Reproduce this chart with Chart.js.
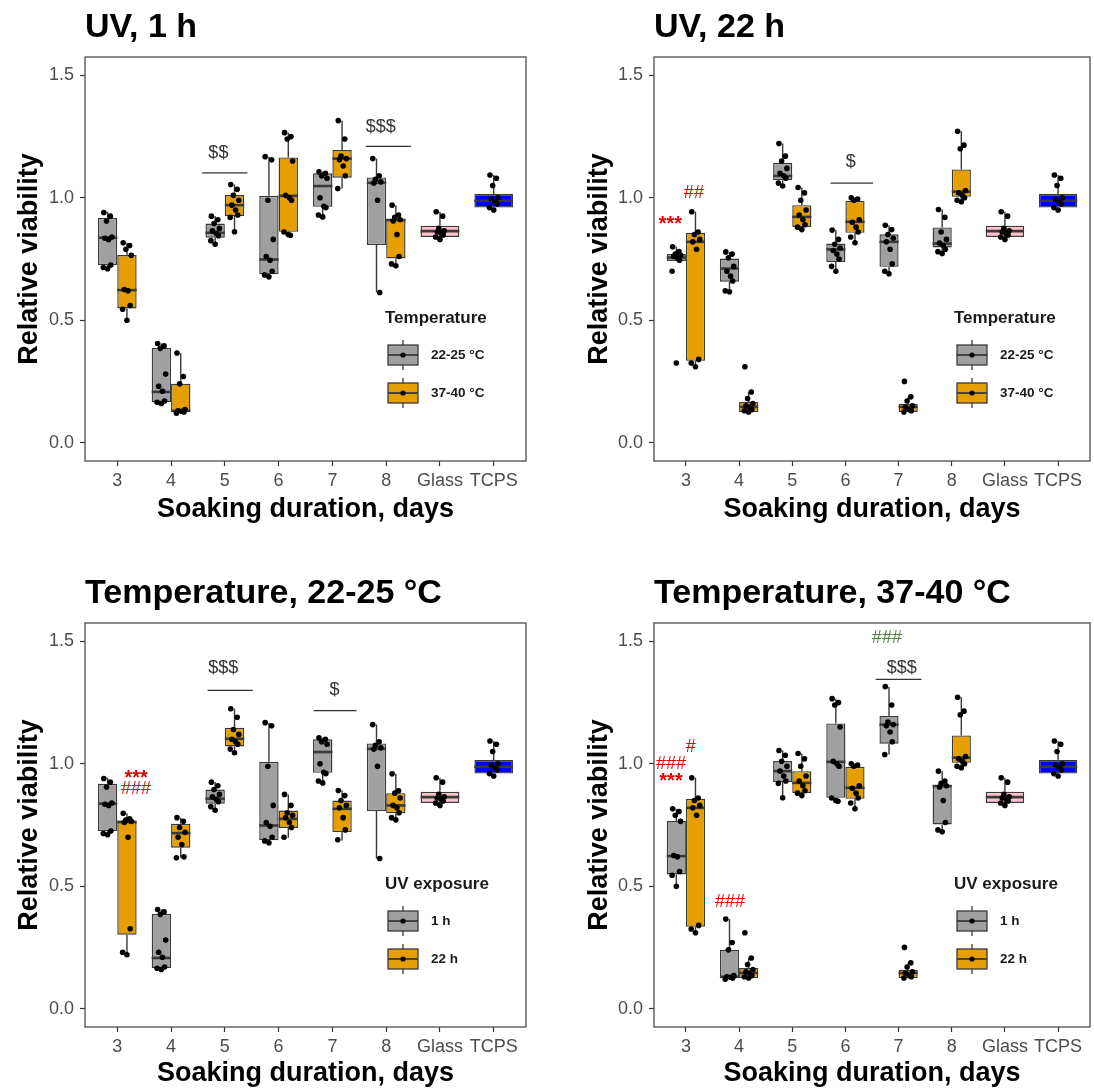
<!DOCTYPE html>
<html>
<head>
<meta charset="utf-8">
<script src="https://cdn.jsdelivr.net/npm/chart.js@4.4.0/dist/chart.umd.min.js"></script>
<style>
  body { margin: 0; background: #fff; }
  #page { position: relative; width: 1094px; height: 1090px; overflow: hidden; }
  canvas { position: absolute; }
</style>
</head>
<body>
<div id="page">
  <canvas id="p1" width="547" height="545" style="left:0;top:0"></canvas>
  <canvas id="p2" width="547" height="545" style="left:547px;top:0"></canvas>
  <canvas id="p3" width="547" height="545" style="left:0;top:545px"></canvas>
  <canvas id="p4" width="547" height="545" style="left:547px;top:545px"></canvas>
</div>
<script>
// Boxplots of relative viability, 4 panels

const CATEGORIES = ['3', '4', '5', '6', '7', '8', 'Glass', 'TCPS'];
const Y_TICKS = [0, 0.5, 1.0, 1.5];

// box stats per soaking day (3..8): [lower whisker, Q1, median, Q3, upper whisker]
const uv1h_t22_box = [
    [0.711, 0.725, 0.837, 0.918, 0.943],
    [0.160, 0.166, 0.207, 0.387, 0.405],
    [0.810, 0.837, 0.857, 0.895, 0.926],
    [0.677, 0.688, 0.748, 1.008, 1.168],
    [0.922, 0.963, 1.048, 1.100, 1.106],
    [0.613, 0.807, 1.061, 1.083, 1.160]
];
const uv1h_t22_pts = [
    [0.94, 0.925, 0.905, 0.84, 0.835, 0.83, 0.725, 0.715, 0.71],
    [0.405, 0.395, 0.385, 0.28, 0.23, 0.21, 0.17, 0.165, 0.16],
    [0.925, 0.91, 0.895, 0.875, 0.865, 0.855, 0.845, 0.825, 0.81],
    [1.168, 1.155, 0.99, 0.83, 0.76, 0.745, 0.70, 0.685, 0.677],
    [1.106, 1.10, 1.09, 1.08, 1.00, 0.965, 0.96, 0.93, 0.922],
    [1.16, 1.09, 1.075, 1.065, 1.06, 0.99, 0.613]
];

const uv1h_t37_box = [
    [0.500, 0.548, 0.623, 0.766, 0.816],
    [0.120, 0.128, 0.130, 0.241, 0.366],
    [0.861, 0.926, 0.970, 1.011, 1.054],
    [0.847, 0.861, 1.008, 1.165, 1.266],
    [1.038, 1.082, 1.160, 1.195, 1.315],
    [0.722, 0.752, 0.909, 0.913, 0.970]
];
const uv1h_t37_pts = [
    [0.816, 0.805, 0.79, 0.765, 0.625, 0.62, 0.56, 0.545, 0.50],
    [0.366, 0.27, 0.24, 0.135, 0.13, 0.128, 0.125, 0.12],
    [1.054, 1.035, 1.01, 0.99, 0.97, 0.95, 0.93, 0.92, 0.861],
    [1.266, 1.25, 1.24, 1.15, 1.01, 1.0, 0.99, 0.86, 0.85, 0.847],
    [1.315, 1.24, 1.17, 1.16, 1.155, 1.13, 1.09, 1.038],
    [0.97, 0.93, 0.92, 0.91, 0.905, 0.85, 0.76, 0.73, 0.722]
];

const uv22h_t22_box = [
    [0.742, 0.742, 0.756, 0.770, 0.800],
    [0.616, 0.657, 0.711, 0.752, 0.779],
    [1.048, 1.072, 1.089, 1.143, 1.222],
    [0.698, 0.738, 0.789, 0.813, 0.868],
    [0.690, 0.718, 0.820, 0.851, 0.888],
    [0.772, 0.797, 0.813, 0.879, 0.952]
];
const uv22h_t22_pts = [
    [0.80, 0.78, 0.77, 0.765, 0.76, 0.755, 0.745, 0.70, 0.325],
    [0.779, 0.77, 0.755, 0.72, 0.70, 0.68, 0.66, 0.62, 0.616],
    [1.222, 1.17, 1.15, 1.12, 1.10, 1.09, 1.08, 1.06, 1.048],
    [0.868, 0.83, 0.81, 0.795, 0.785, 0.77, 0.75, 0.72, 0.70],
    [0.888, 0.87, 0.85, 0.835, 0.82, 0.79, 0.73, 0.70, 0.69],
    [0.952, 0.92, 0.86, 0.83, 0.815, 0.805, 0.79, 0.78, 0.772]
];

// same condition as drawn in the "Temperature, 22-25 °C" panel (day 3 differs)
const uv22h_t22_box_p3 = [
    [0.223, 0.302, 0.762, 0.768, 0.798],
    [0.616, 0.657, 0.717, 0.755, 0.780],
    [1.045, 1.071, 1.102, 1.147, 1.225],
    [0.698, 0.738, 0.775, 0.809, 0.875],
    [0.687, 0.721, 0.816, 0.850, 0.891],
    [0.771, 0.798, 0.830, 0.880, 0.959]
];
const uv22h_t22_pts_p3 = [
    [0.798, 0.775, 0.77, 0.765, 0.76, 0.70, 0.326, 0.23, 0.22],
    [0.78, 0.765, 0.74, 0.72, 0.70, 0.67, 0.62, 0.616],
    [1.225, 1.19, 1.14, 1.12, 1.10, 1.09, 1.08, 1.06, 1.045],
    [0.875, 0.83, 0.80, 0.79, 0.78, 0.76, 0.74, 0.70],
    [0.891, 0.87, 0.85, 0.83, 0.82, 0.78, 0.73, 0.69],
    [0.959, 0.89, 0.88, 0.86, 0.83, 0.82, 0.80, 0.78, 0.771]
];

const uv22h_t37_box = [
    [0.310, 0.334, 0.820, 0.857, 0.943],
    [0.125, 0.125, 0.146, 0.166, 0.207],
    [0.870, 0.881, 0.922, 0.970, 1.042],
    [0.816, 0.857, 0.902, 0.988, 1.000],
    [0.125, 0.125, 0.146, 0.159, 0.187],
    [0.984, 1.004, 1.025, 1.116, 1.272]
];
const uv22h_t37_pts = [
    [0.943, 0.86, 0.85, 0.83, 0.82, 0.79, 0.34, 0.325, 0.31],
    [0.31, 0.207, 0.18, 0.16, 0.15, 0.145, 0.135, 0.13, 0.125],
    [1.042, 1.02, 0.99, 0.95, 0.93, 0.91, 0.89, 0.88, 0.87],
    [1.0, 0.995, 0.99, 0.91, 0.90, 0.88, 0.86, 0.84, 0.816],
    [0.25, 0.187, 0.17, 0.15, 0.145, 0.135, 0.13, 0.125],
    [1.272, 1.215, 1.20, 1.03, 1.02, 1.01, 1.0, 0.99, 0.984]
];

// controls, same in every panel
const control_box = [
    [0.827, 0.840, 0.864, 0.886, 0.943],   // Glass
    [0.940, 0.960, 0.988, 1.015, 1.093]    // TCPS
];
const control_pts = [
    [0.943, 0.925, 0.875, 0.865, 0.86, 0.855, 0.848, 0.84, 0.83],
    [1.093, 1.08, 1.05, 1.0, 0.995, 0.985, 0.975, 0.96, 0.95]
];

// significance marks: text at (day index + dx, y), optional bracket line
const notes_p1 = [
    { text: '$$', at: 2, dx: -0.12, y: 1.184, line: [-0.42, 0.42], lineY: 1.102 },
    { text: '$$$', at: 5, dx: -0.10, y: 1.287, line: [-0.38, 0.46], lineY: 1.21 }
];
const notes_p2 = [
    { text: '***', at: 0, dx: -0.29, y: 0.91, color: 'red' },
    { text: '##', at: 0, dx: 0.15, y: 1.02, color: 'red' },
    { text: '$', at: 3, dx: 0.10, y: 1.148, line: [-0.28, 0.52], lineY: 1.06 }
];
const notes_p3 = [
    { text: '***', at: 0, dx: 0.35, y: 0.962, color: 'red' },
    { text: '###', at: 0, dx: 0.35, y: 0.898, color: 'red' },
    { text: '$$$', at: 2, dx: -0.03, y: 1.39, line: [-0.32, 0.52], lineY: 1.30 },
    { text: '$', at: 4, dx: 0.04, y: 1.30, line: [-0.35, 0.45], lineY: 1.217 }
];
const notes_p4 = [
    { text: '###', at: 0, dx: -0.28, y: 1.0, color: 'red' },
    { text: '***', at: 0, dx: -0.28, y: 0.95, color: 'red' },
    { text: '#', at: 0, dx: 0.09, y: 1.07, color: 'red' },
    { text: '###', at: 1, dx: -0.17, y: 0.435, color: 'red' },
    { text: '###', at: 4, dx: -0.22, y: 1.515, color: 'green' },
    { text: '$$$', at: 4, dx: 0.06, y: 1.39, line: [-0.43, 0.43], lineY: 1.345 }
];

const GRAY = '#a0a0a0';
const ORANGE = '#e69f00';
const CONTROL_FILL = ['#ffc0cb', '#0000ff'];
const OUTLINE = '#3a3a3a';
const NOTE_COLORS = { red: '#e00000', green: '#4f7f3f', dark: '#333333' };
const DODGE = 0.18;
const JITTER = [-0.07, 0.05, -0.02, 0.08, -0.05, 0.02, 0.06, -0.08, 0.0, 0.04];

Chart.defaults.font.family = "'Liberation Sans', Arial, sans-serif";

const panels = [
    { id: 'p1', col: 0, row: 0, title: 'UV, 1 h', legendTitle: 'Temperature', legendLabels: ['22-25 °C', '37-40 °C'],
      a: [uv1h_t22_box, uv1h_t22_pts], b: [uv1h_t37_box, uv1h_t37_pts], notes: notes_p1 },
    { id: 'p2', col: 1, row: 0, title: 'UV, 22 h', legendTitle: 'Temperature', legendLabels: ['22-25 °C', '37-40 °C'],
      a: [uv22h_t22_box, uv22h_t22_pts], b: [uv22h_t37_box, uv22h_t37_pts], notes: notes_p2 },
    { id: 'p3', col: 0, row: 1, title: 'Temperature, 22-25 °C', legendTitle: 'UV exposure', legendLabels: ['1 h', '22 h'],
      a: [uv1h_t22_box, uv1h_t22_pts], b: [uv22h_t22_box_p3, uv22h_t22_pts_p3], notes: notes_p3 },
    { id: 'p4', col: 1, row: 1, title: 'Temperature, 37-40 °C', legendTitle: 'UV exposure', legendLabels: ['1 h', '22 h'],
      a: [uv1h_t37_box, uv1h_t37_pts], b: [uv22h_t37_box, uv22h_t37_pts], notes: notes_p4 }
];

// draws whiskers and median of each box right after its bars
const boxPartsPlugin = {
    id: 'boxParts',
    afterDatasetDraw(chart, args) {
        const ds = chart.data.datasets[args.index];
        if (!ds.stats) return;
        const y = chart.scales.y;
        const ctx = chart.ctx;
        ctx.save();
        ctx.strokeStyle = OUTLINE;
        args.meta.data.forEach((bar, i) => {
            const s = ds.stats[i];
            const half = bar.width / 2;
            ctx.lineWidth = 1.4;
            ctx.beginPath();
            ctx.moveTo(bar.x, y.getPixelForValue(s[4]));
            ctx.lineTo(bar.x, y.getPixelForValue(s[3]));
            ctx.moveTo(bar.x, y.getPixelForValue(s[1]));
            ctx.lineTo(bar.x, y.getPixelForValue(s[0]));
            ctx.stroke();
            ctx.lineWidth = 2.6;
            ctx.beginPath();
            const ym = y.getPixelForValue(s[2]);
            ctx.moveTo(bar.x - half, ym);
            ctx.lineTo(bar.x + half, ym);
            ctx.stroke();
        });
        ctx.restore();
    }
};

// panel border, significance marks and the legend
const decorPlugin = {
    id: 'decor',
    afterDraw(chart) {
        const cfg = chart.options.plugins.decor;
        const ctx = chart.ctx;
        const area = chart.chartArea;
        const x = chart.scales.x, y = chart.scales.y;
        ctx.save();
        ctx.strokeStyle = '#4d4d4d';
        ctx.lineWidth = 1.3;
        ctx.strokeRect(area.left, area.top, area.right - area.left, area.bottom - area.top);

        cfg.notes.forEach(n => {
            const color = NOTE_COLORS[n.color || 'dark'];
            if (n.line) {
                ctx.strokeStyle = '#333';
                ctx.lineWidth = 1.2;
                ctx.beginPath();
                const ly = y.getPixelForValue(n.lineY);
                ctx.moveTo(x.getPixelForValue(n.at + n.line[0]), ly);
                ctx.lineTo(x.getPixelForValue(n.at + n.line[1]), ly);
                ctx.stroke();
            }
            const star = n.text[0] === '*';
            ctx.fillStyle = color;
            ctx.font = (star ? 'bold 20px ' : '18px ') + Chart.defaults.font.family;
            ctx.textAlign = 'center';
            ctx.textBaseline = 'middle';
            ctx.fillText(n.text, x.getPixelForValue(n.at + n.dx), y.getPixelForValue(n.y) + (star ? 5 : 0));
        });

        // legend
        const L = area.left, T = area.top;
        ctx.fillStyle = '#1a1a1a';
        ctx.font = 'bold 17px ' + Chart.defaults.font.family;
        ctx.textAlign = 'left';
        ctx.textBaseline = 'middle';
        ctx.fillText(cfg.legendTitle, L + 300, T + 261);
        [GRAY, ORANGE].forEach((fill, i) => {
            const cy = T + 298 + i * 38;
            const bx = L + 303, bw = 30, bh = 20;
            ctx.strokeStyle = OUTLINE;
            ctx.lineWidth = 1.3;
            ctx.beginPath();
            ctx.moveTo(bx + bw / 2, cy - bh / 2 - 5);
            ctx.lineTo(bx + bw / 2, cy + bh / 2 + 5);
            ctx.stroke();
            ctx.fillStyle = fill;
            ctx.fillRect(bx, cy - bh / 2, bw, bh);
            ctx.strokeRect(bx, cy - bh / 2, bw, bh);
            ctx.lineWidth = 1.8;
            ctx.beginPath();
            ctx.moveTo(bx, cy);
            ctx.lineTo(bx + bw, cy);
            ctx.stroke();
            ctx.fillStyle = '#000';
            ctx.beginPath();
            ctx.arc(bx + bw / 2, cy, 2.6, 0, Math.PI * 2);
            ctx.fill();
            ctx.fillStyle = '#1a1a1a';
            ctx.font = 'bold 13.5px ' + Chart.defaults.font.family;
            ctx.fillText(cfg.legendLabels[i], L + 346, cy);
        });
        ctx.restore();
    }
};

function boxDataset(stats, fill, grouped, offsetIndex) {
    return {
        type: 'bar',
        data: stats.map((s, i) => ({ x: i + offsetIndex, y: [s[1], s[3]] })),
        stats: stats,
        backgroundColor: fill,
        borderColor: OUTLINE,
        borderWidth: 1.4,
        borderSkipped: false,
        grouped: grouped,
        categoryPercentage: 0.72,
        barPercentage: 1,
        order: 2
    };
}

function pointData(groups, shift, offsetIndex) {
    const out = [];
    groups.forEach((vals, i) => {
        vals.forEach((v, k) => {
            out.push({ x: i + offsetIndex + shift + JITTER[k % JITTER.length], y: v });
        });
    });
    return out;
}

function createPanel(p) {
    const ctx = document.getElementById(p.id);
    const yAxisWidth = p.col === 0 ? 85 : 107;
    const yTitlePad = p.col === 0 ? 13.8 : 36.8;
    const xAxisHeight = p.row === 0 ? 84 : 63;
    const xTitlePad = p.row === 0 ? 18.8 : 0;

    const points = pointData(p.a[1], -DODGE, 0)
        .concat(pointData(p.b[1], DODGE, 0))
        .concat(pointData(control_pts, 0, 6));

    return new Chart(ctx, {
        type: 'bar',
        data: {
            datasets: [
                boxDataset(p.a[0], GRAY, true, 0),
                boxDataset(p.b[0], ORANGE, true, 0),
                boxDataset(control_box, CONTROL_FILL, false, 6),
                {
                    type: 'scatter',
                    data: points,
                    pointRadius: 2.8,
                    pointBackgroundColor: '#000',
                    pointBorderWidth: 0,
                    order: 0
                }
            ]
        },
        options: {
            responsive: false,
            animation: false,
            events: [],
            layout: {
                padding: { left: 0, right: p.col === 0 ? 21 : 1, top: p.row === 0 ? 0 : 21, bottom: 0 }
            },
            plugins: {
                legend: { display: false },
                tooltip: { enabled: false },
                title: {
                    display: true,
                    text: p.title,
                    align: 'start',
                    fullSize: false,
                    color: '#000',
                    font: { size: 34, weight: 'bold' },
                    padding: { top: 7.6, bottom: 8.6 }
                },
                decor: { notes: p.notes, legendTitle: p.legendTitle, legendLabels: p.legendLabels }
            },
            scales: {
                x: {
                    type: 'linear',
                    min: -0.6,
                    max: 7.6,
                    offset: false,
                    afterBuildTicks: s => { s.ticks = CATEGORIES.map((c, i) => ({ value: i })); },
                    afterFit: s => { s.height = xAxisHeight; },
                    ticks: {
                        callback: v => CATEGORIES[v],
                        autoSkip: false,
                        maxRotation: 0,
                        font: { size: 18 },
                        color: '#4d4d4d',
                        padding: 4
                    },
                    grid: { offset: false, drawOnChartArea: false, tickLength: 5, color: '#333', tickWidth: 1.2 },
                    border: { display: false },
                    title: {
                        display: true,
                        text: 'Soaking duration, days',
                        color: '#000',
                        font: { size: 27, weight: 'bold' },
                        padding: { top: 0, bottom: xTitlePad }
                    }
                },
                y: {
                    min: -0.075,
                    max: 1.575,
                    afterBuildTicks: s => { s.ticks = Y_TICKS.map(v => ({ value: v })); },
                    afterFit: s => { s.width = yAxisWidth; },
                    ticks: {
                        callback: v => v.toFixed(1),
                        font: { size: 18 },
                        color: '#4d4d4d',
                        padding: 6
                    },
                    grid: { drawOnChartArea: false, tickLength: 5, color: '#333', tickWidth: 1.2 },
                    border: { display: false },
                    title: {
                        display: true,
                        text: 'Relative viability',
                        color: '#000',
                        font: { size: 27, weight: 'bold' },
                        padding: { top: yTitlePad, bottom: 0 }
                    }
                }
            }
        },
        plugins: [boxPartsPlugin, decorPlugin]
    });
}

document.addEventListener('DOMContentLoaded', function() {
    panels.forEach(createPanel);
});
</script>
</body>
</html>
